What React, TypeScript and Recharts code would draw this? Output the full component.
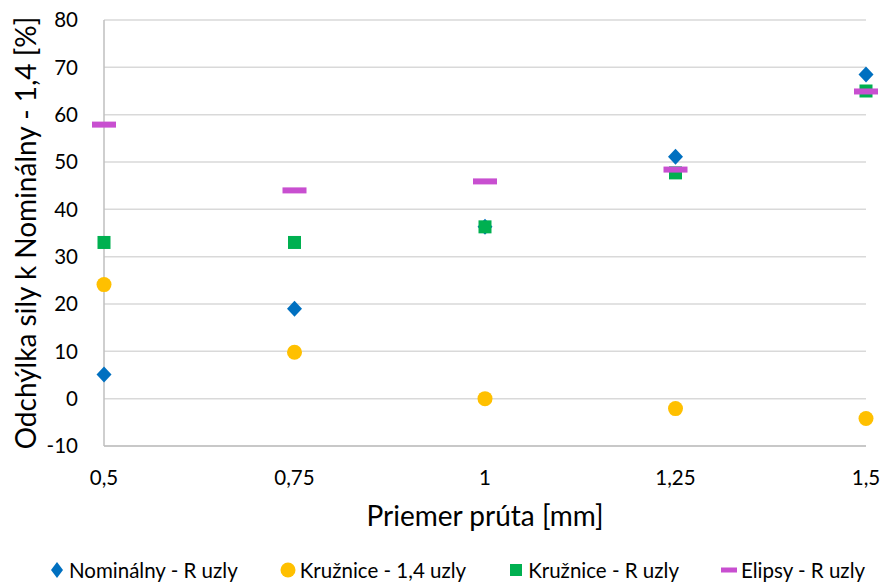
import React from "react";
import {
  ScatterChart,
  Scatter,
  XAxis,
  YAxis,
  CartesianGrid,
  Legend,
} from "recharts";

const diameters = [0.5, 0.75, 1, 1.25, 1.5];
const nominalR = [5.1, 19, 36.3, 51.1, 68.5];
const circle14 = [24.1, 9.8, 0, -2.1, -4.2];
const circleR = [33, 33, 36.3, 47.7, 65];
const ellipseR = [57.9, 44, 45.9, 48.4, 64.9];
const yTicks = [-10, 0, 10, 20, 30, 40, 50, 60, 70, 80];

const FONT = "Lato, 'Open Sans', sans-serif";

const toPoints = (vals: number[]) =>
  diameters.map((x, i) => ({ x, y: vals[i] }));

const series = [
  { name: "Nominálny - R uzly", data: toPoints(nominalR), color: "#0070C0", kind: "diamond" },
  { name: "Kružnice - 1,4 uzly", data: toPoints(circle14), color: "#FFC000", kind: "circle" },
  { name: "Kružnice - R uzly", data: toPoints(circleR), color: "#00B050", kind: "square" },
  { name: "Elipsy - R uzly", data: toPoints(ellipseR), color: "#C84FD0", kind: "dash" },
];

function Marker({ cx, cy, kind, color }: { cx: number; cy: number; kind: string; color: string }) {
  if (kind === "diamond") {
    return <polygon points={`${cx},${cy - 8} ${cx + 7.5},${cy} ${cx},${cy + 8} ${cx - 7.5},${cy}`} fill={color} />;
  }
  if (kind === "circle") return <circle cx={cx} cy={cy} r={7.5} fill={color} />;
  if (kind === "square") return <rect x={cx - 6.5} y={cy - 6.5} width={13} height={13} fill={color} />;
  return <rect x={cx - 12} y={cy - 3} width={24} height={6} fill={color} />;
}

function LegendIcon({ kind, color }: { kind: string; color: string }) {
  return (
    <svg width={16} height={18} style={{ marginRight: 4 }}>
      {kind === "diamond" && <polygon points="8,1 14,9 8,17 2,9" fill={color} />}
      {kind === "circle" && <circle cx={8} cy={9} r={7.5} fill={color} />}
      {kind === "square" && <rect x={2} y={3} width={12} height={12} fill={color} />}
      {kind === "dash" && <rect x={0} y={6.5} width={16} height={5} fill={color} />}
    </svg>
  );
}

function ChartLegend() {
  return (
    <div
      style={{
        display: "flex",
        justifyContent: "center",
        gap: 42,
        paddingTop: 12,
        paddingLeft: 4,
        fontFamily: FONT,
        fontSize: 20.5,
        color: "#000",
      }}
    >
      {series.map((s) => (
        <div key={s.name} style={{ display: "flex", alignItems: "center" }}>
          <LegendIcon kind={s.kind} color={s.color} />
          <span>{s.name}</span>
        </div>
      ))}
    </div>
  );
}

export default function App() {
  return (
    <div style={{ position: "absolute", left: 0, top: 0, background: "#fff" }}>
      <ScatterChart
        width={884}
        height={582}
        margin={{ top: 20, right: 18, left: 44, bottom: 0 }}
      >
        <CartesianGrid vertical={false} stroke="#D9D9D9" strokeWidth={1.5} />
        <XAxis
          type="number"
          dataKey="x"
          domain={[0.5, 1.5]}
          ticks={diameters}
          tickFormatter={(v: number) => String(v).replace(".", ",")}
          tick={{ fontSize: 20.5, fill: "#000", fontFamily: FONT }}
          tickLine={false}
          axisLine={{ stroke: "#BFBFBF", strokeWidth: 1.5 }}
          tickMargin={18}
          height={100}
          label={{
            value: "Priemer prúta [mm]",
            position: "insideTop",
            offset: 60,
            style: { fontSize: 28, fill: "#000", fontFamily: FONT },
          }}
        />
        <YAxis
          type="number"
          dataKey="y"
          domain={[-10, 80]}
          ticks={yTicks}
          tick={{ fontSize: 20.5, fill: "#000", fontFamily: FONT }}
          tickLine={false}
          axisLine={{ stroke: "#BFBFBF", strokeWidth: 1.5 }}
          tickMargin={20}
          width={60}
          label={{
            value: "Odchýlka sily k Nominálny - 1,4 [%]",
            angle: -90,
            position: "insideLeft",
            offset: -18,
            style: { fontSize: 28, fill: "#000", fontFamily: FONT, textAnchor: "middle" },
          }}
        />
        {series.map((s) => (
          <Scatter
            key={s.name}
            name={s.name}
            data={s.data}
            fill={s.color}
            isAnimationActive={false}
            shape={(p: any) => <Marker cx={p.cx} cy={p.cy} kind={s.kind} color={s.color} />}
          />
        ))}
        <Legend verticalAlign="bottom" height={36} content={() => <ChartLegend />} />
      </ScatterChart>
    </div>
  );
}
